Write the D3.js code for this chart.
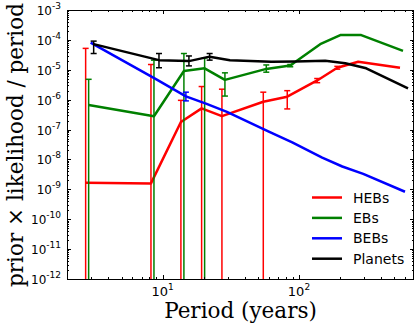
<!DOCTYPE html>
<html>
<head>
<meta charset="utf-8">
<script src="https://cdn.jsdelivr.net/npm/d3@7"></script>
<style>
  body { margin: 0; background: #fff; }
  svg { display: block; }
  .tick-label { font-family: "DejaVu Sans", sans-serif; font-size: 12px; fill: #000; }
  .axis-title { font-family: "DejaVu Serif", serif; font-size: 21.5px; fill: #000; }
  .legend-text { font-family: "DejaVu Sans", sans-serif; font-size: 14px; fill: #000; }
</style>
</head>
<body>
<svg id="chart" width="415" height="327"></svg>
<script>
// period bins (years), shared by every model
var periods = [2.72, 8.2, 13.6, 19.3, 27.2, 54.7, 82, 136, 191, 272, 551];

// prior x likelihood / period for each model
var hebValues = [1.66e-9, 1.58e-9, 1.78e-7, 5.1e-7, 2.8e-7, 8.5e-7, 1.26e-6, 4.4e-6, 1.17e-5, 1.86e-5, 1.17e-5];
var ebValues = [6.6e-7, 2.8e-7, 9.1e-6, 1.12e-5, 4.6e-6, 1.07e-5, 1.38e-5, 7.2e-5, 1.45e-4, 1.45e-4, 4.3e-5];
var bebValues = [8.1e-5, 4.9e-6, 1.29e-6, 7.2e-7, 3.9e-7, 8.7e-8, 3.7e-8, 1.15e-8, 5.8e-9, 3.3e-9, 8.3e-10];
var planetValues = [7.2e-5, 2.1e-5, 1.95e-5, 2.75e-5, 2.1e-5, 1.86e-5, 1.9e-5, 2.0e-5, 1.66e-5, 1.12e-5, 2.4e-6];

// error bar ends (null = no bar, 0 = runs off the bottom of the log axis)
var hebHigh = [5.2e-5, 1.5e-5, 9.5e-7, 2.75e-6, 2.24e-6, 1.78e-6, 2.0e-6, 5.1e-6, 1.3e-5, null, null];
var hebLow = [0, 0, 0, 0, 0, 0, 4.9e-7, 3.7e-6, 1.05e-5, null, null];
var ebHigh = [4.8e-6, 2.1e-5, 3.5e-5, 2.5e-5, 7.9e-6, 1.45e-5, 1.5e-5, null, null, null, null];
var ebLow = [0, 0, 0, 0, 1.32e-6, 8.3e-6, 1.26e-5, null, null, null, null];
var bebHigh = [null, null, 1.78e-6, null, null, null, null, null, null, null, null];
var bebLow = [null, null, 9.1e-7, null, null, null, null, null, null, null, null];
var planetHigh = [9.1e-5, 3.5e-5, 2.9e-5, 3.5e-5, null, null, null, null, null, null, null];
var planetLow = [3.5e-5, 1.17e-5, 1.35e-5, 2.1e-5, null, null, null, null, null, null, null];

// tick labels
var xTickExps = ["1", "2"];
var yTickExps = ["-3", "-4", "-5", "-6", "-7", "-8", "-9", "-10", "-11", "-12"];

var models = [
  { name: "HEBs", values: hebValues, high: hebHigh, low: hebLow, color: "#ff0000", dodge: 1.0 },
  { name: "EBs", values: ebValues, high: ebHigh, low: ebLow, color: "#008000", dodge: 1.052 },
  { name: "BEBs", values: bebValues, high: bebHigh, low: bebLow, color: "#0000ff", dodge: 1.088 },
  { name: "Planets", values: planetValues, high: planetHigh, low: planetLow, color: "#000000", dodge: 1.145 }
];

// plot box, in pixels (avoid the name "top", it is window.top)
var plotLeft = 67, plotRight = 414, plotTop = 10, plotBottom = 279;

var svg = d3.select("#chart");

var x = d3.scaleLog().domain([1.985, 698]).range([plotLeft, plotRight]);
var y = d3.scaleLog().domain([1e-12, 1e-3]).range([plotBottom, plotTop]);

svg.append("clipPath").attr("id", "plot-clip")
  .append("rect")
  .attr("x", plotLeft).attr("y", plotTop)
  .attr("width", plotRight - plotLeft).attr("height", plotBottom - plotTop);

var plot = svg.append("g").attr("clip-path", "url(#plot-clip)");

// lines and error bars, one model at a time
models.forEach(function(m) {
  var pts = periods.map(function(p, i) {
    return { p: p * m.dodge, v: m.values[i], hi: m.high[i], lo: m.low[i] };
  });

  var g = plot.append("g");

  g.append("path")
    .datum(pts)
    .attr("fill", "none")
    .attr("stroke", m.color)
    .attr("stroke-width", 2.5)
    .attr("stroke-linejoin", "round")
    .attr("d", d3.line().x(function(d) { return x(d.p); }).y(function(d) { return y(d.v); }));

  var bars = pts.filter(function(d) { return d.hi !== null; });
  bars.forEach(function(d) {
    var cx = x(d.p);
    var yHi = y(d.hi);
    var yLo = d.lo > 0 ? y(d.lo) : plotBottom + 5;
    g.append("line")
      .attr("x1", cx).attr("x2", cx).attr("y1", yHi).attr("y2", yLo)
      .attr("stroke", m.color).attr("stroke-width", 1.5);
    g.append("line")
      .attr("x1", cx - 3).attr("x2", cx + 3).attr("y1", yHi).attr("y2", yHi)
      .attr("stroke", m.color).attr("stroke-width", 1.5);
    if (d.lo > 0) {
      g.append("line")
        .attr("x1", cx - 3).attr("x2", cx + 3).attr("y1", yLo).attr("y2", yLo)
        .attr("stroke", m.color).attr("stroke-width", 1.5);
    }
  });
});

// axes with inward ticks on all four sides
function logTicks(scale) {
  var major = [], minor = [];
  var d = scale.domain();
  var lo = Math.floor(Math.log10(d[0])), hi = Math.ceil(Math.log10(d[1]));
  for (var e = lo; e <= hi; e++) {
    for (var k = 1; k < 10; k++) {
      var v = k * Math.pow(10, e);
      if (v < d[0] * 0.999 || v > d[1] * 1.001) continue;
      if (k === 1) major.push(v); else minor.push(v);
    }
  }
  return { major: major, minor: minor };
}

var axes = svg.append("g").attr("stroke", "#000").attr("stroke-width", 1);

var xt = logTicks(x);
xt.major.forEach(function(v) {
  var px = Math.round(x(v)) + 0.5;
  axes.append("line").attr("x1", px).attr("x2", px).attr("y1", plotBottom).attr("y2", plotBottom - 4);
  axes.append("line").attr("x1", px).attr("x2", px).attr("y1", plotTop).attr("y2", plotTop + 4);
});
xt.minor.forEach(function(v) {
  var px = Math.round(x(v)) + 0.5;
  axes.append("line").attr("x1", px).attr("x2", px).attr("y1", plotBottom).attr("y2", plotBottom - 2);
  axes.append("line").attr("x1", px).attr("x2", px).attr("y1", plotTop).attr("y2", plotTop + 2);
});

var yt = logTicks(y);
yt.major.forEach(function(v) {
  var py = Math.round(y(v)) + 0.5;
  axes.append("line").attr("x1", plotLeft).attr("x2", plotLeft + 4).attr("y1", py).attr("y2", py);
  axes.append("line").attr("x1", plotRight).attr("x2", plotRight - 4).attr("y1", py).attr("y2", py);
});
yt.minor.forEach(function(v) {
  var py = Math.round(y(v)) + 0.5;
  axes.append("line").attr("x1", plotLeft).attr("x2", plotLeft + 2).attr("y1", py).attr("y2", py);
  axes.append("line").attr("x1", plotRight).attr("x2", plotRight - 2).attr("y1", py).attr("y2", py);
});

svg.append("rect")
  .attr("x", plotLeft + 0.5).attr("y", plotTop + 0.5)
  .attr("width", plotRight - plotLeft - 1).attr("height", plotBottom - plotTop)
  .attr("fill", "none").attr("stroke", "#000").attr("stroke-width", 1);

// tick labels as 10 with superscript exponent
xTickExps.forEach(function(e) {
  var t = svg.append("text").attr("class", "tick-label")
    .attr("x", x(Math.pow(10, +e))).attr("y", 296)
    .attr("text-anchor", "middle").style("font-size", "13px");
  t.append("tspan").text("10");
  t.append("tspan").attr("dy", -6).style("font-size", "9px").text(e);
});

yTickExps.forEach(function(e) {
  var t = svg.append("text").attr("class", "tick-label")
    .attr("x", 61).attr("y", y(Math.pow(10, +e)) + 5)
    .attr("text-anchor", "end");
  t.append("tspan").text("10");
  t.append("tspan").attr("dy", -6).style("font-size", "9px").text(e);
});

// axis titles
svg.append("text").attr("class", "axis-title")
  .attr("x", 240.5).attr("y", 318)
  .attr("text-anchor", "middle")
  .text("Period (years)");

svg.append("text").attr("class", "axis-title")
  .attr("transform", "translate(23,145) rotate(-90)")
  .attr("text-anchor", "middle")
  .text("prior \u00d7 likelihood / period");

// legend
var legend = svg.append("g");
models.forEach(function(m, i) {
  var ly = 197.5 + i * 20.4;
  legend.append("line")
    .attr("x1", 312).attr("x2", 342).attr("y1", ly).attr("y2", ly)
    .attr("stroke", m.color).attr("stroke-width", 2.5);
  legend.append("text").attr("class", "legend-text")
    .attr("x", 353).attr("y", ly + 5)
    .text(m.name);
});
</script>
</body>
</html>
